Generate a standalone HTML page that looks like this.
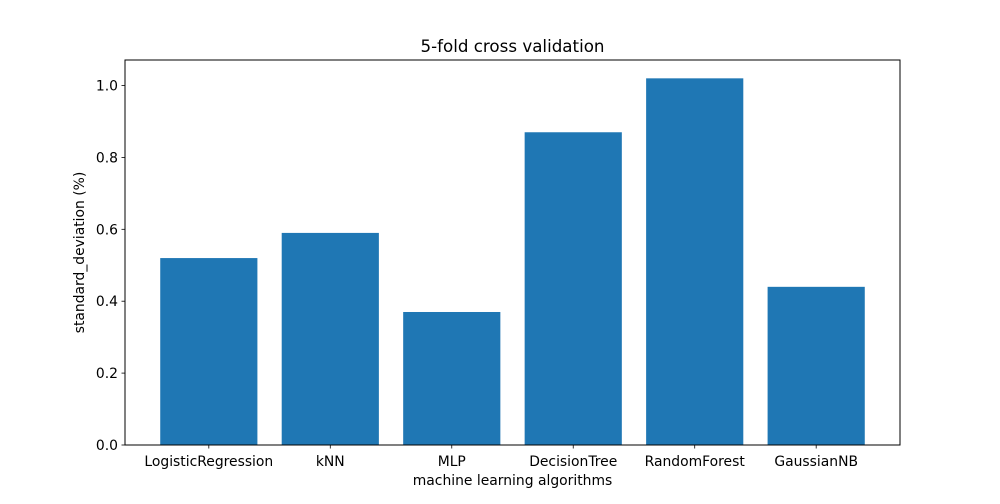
<!DOCTYPE html>
<html><head><meta charset="utf-8"><style>
body{margin:0;background:#fff;font-family:"DejaVu Sans","Liberation Sans",sans-serif;}
svg text{font-family:"DejaVu Sans","Liberation Sans",sans-serif;fill:#000;}
</style></head><body>
<svg id="chart" width="1000" height="500" xmlns="http://www.w3.org/2000/svg"></svg>
<script>
const categories=["LogisticRegression","kNN","MLP","DecisionTree","RandomForest","GaussianNB"];
const values=[0.52,0.59,0.37,0.87,1.02,0.44];
const yTicks=[0.0,0.2,0.4,0.6,0.8,1.0];
const yTickLabels=["0.0","0.2","0.4","0.6","0.8","1.0"];

const L=125,R=900,T=60,B=445;
const n=categories.length;
const xMin=-0.4-0.05*(n-0.2), xMax=n-1+0.4+0.05*(n-0.2);
const yMax=Math.max(...values)*1.05;
const xs=v=>L+(v-xMin)/(xMax-xMin)*(R-L);
const ys=v=>B-v/yMax*(B-T);
const svg=document.getElementById('chart');
const NS="http://www.w3.org/2000/svg";
function mk(tag,attrs,text){const e=document.createElementNS(NS,tag);for(const k in attrs)e.setAttribute(k,attrs[k]);if(text!==undefined)e.textContent=text;svg.appendChild(e);return e;}

categories.forEach((c,i)=>{
  const x0=xs(i-0.4),x1=xs(i+0.4);
  const r=mk('rect',{x:x0,y:ys(values[i]),width:x1-x0,height:B-ys(values[i]),fill:'#1f77b4'});
  
  
  const t=mk('line',{x1:xs(i),x2:xs(i),y1:B,y2:B+3.5,stroke:'#000','stroke-width':0.8});
  
  
  const l=mk('text',{x:xs(i),y:B+21,'text-anchor':'middle','font-size':13.9},c);
  
  
});
yTicks.forEach((v,i)=>{
  const t=mk('line',{x1:L-3.5,x2:L,y1:ys(v),y2:ys(v),stroke:'#000','stroke-width':0.8});
  
  
  const l=mk('text',{x:L-7,y:ys(v)+5,'text-anchor':'end','font-size':13.9},yTickLabels[i]);
  
  
});
const f=mk('rect',{x:L,y:T,width:R-L,height:B-T,fill:'none',stroke:'#000','stroke-width':1});


const ti=mk('text',{x:(L+R)/2,y:52,'text-anchor':'middle','font-size':16.7},'5-fold cross validation');


const xt=mk('text',{x:(L+R)/2,y:485,'text-anchor':'middle','font-size':13.9},'machine learning algorithms');


const yt=mk('text',{x:0,y:0,'text-anchor':'middle','font-size':13.9,transform:'translate(84,'+((T+B)/2)+') rotate(-90)'},'standard_deviation (%)');


</script>
</body></html>
